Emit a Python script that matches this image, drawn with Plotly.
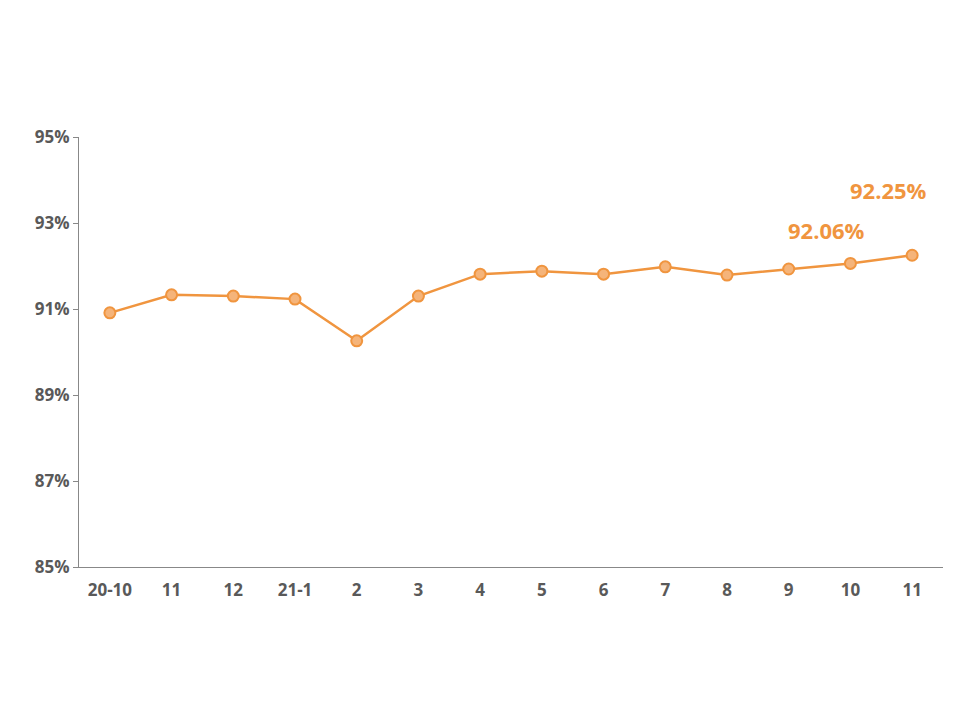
import plotly.graph_objects as go

categories = ["20-10","11","12","21-1","2","3","4","5","6","7","8","9","10","11 "]
values = [90.91,91.33,91.30,91.23,90.26,91.30,91.81,91.88,91.81,91.98,91.79,91.93,92.06,92.25]
tick_vals = [85,87,89,91,93,95]
tick_text = ["85%","87%","89%","91%","93%","95%"]
orange = "#F0953F"

fig = go.Figure(go.Scatter(
    x=list(range(len(categories))), y=values, mode="lines+markers",
    line=dict(color=orange, width=2.5),
    marker=dict(size=11, color="#F5B47A", line=dict(color=orange, width=2)),
))
for i, xs, ys in [(12, -24, 33), (13, -24, 65)]:
    fig.add_annotation(x=i, y=values[i], text=f"{values[i]:.2f}%", showarrow=False,
                       xshift=xs, yshift=ys, font=dict(size=22, color=orange, family="Open Sans", weight="bold"))
fig.update_layout(
    width=960, height=720, plot_bgcolor="white", paper_bgcolor="white",
    margin=dict(l=71, r=25, t=129, b=161), showlegend=False,
    font=dict(family="Open Sans", size=17, color="#595959"),
)
fig.update_xaxes(range=[-0.5, 13.5], tickvals=list(range(len(categories))), ticktext=[c.strip() for c in categories],
                 showline=True, linecolor="#888", showgrid=False, zeroline=False, automargin=False,
                 tickfont=dict(size=17, color="#595959", family="Open Sans", weight="bold"), ticklabelstandoff=8)
fig.update_yaxes(range=[85, 95], tickvals=tick_vals, ticktext=tick_text, showline=True, linecolor="#888",
                 ticks="outside", ticklen=5, tickcolor="#888", showgrid=False, zeroline=False, automargin=False,
                 tickfont=dict(size=17, color="#595959", family="Open Sans", weight="bold"))
fig.write_html("out.html")
